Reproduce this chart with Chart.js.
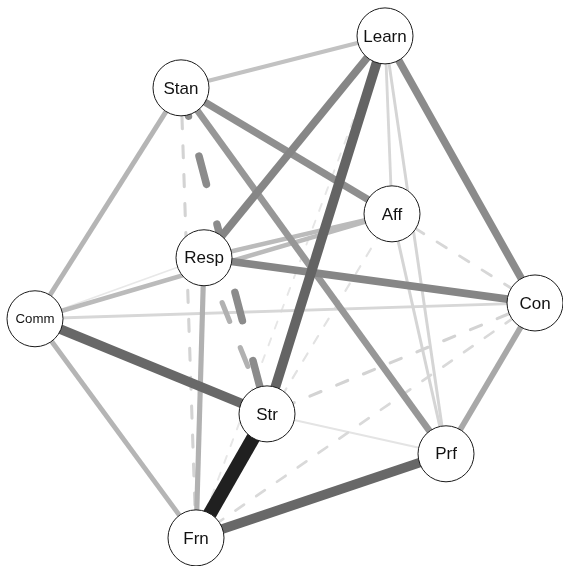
<!DOCTYPE html>
<html>
<head>
<meta charset="utf-8">
<title>Network</title>
<script src="https://cdn.jsdelivr.net/npm/chart.js@4.4.1/dist/chart.umd.min.js"></script>
<style>
  html, body { margin: 0; padding: 0; background: #ffffff; }
  #wrap { width: 563px; height: 566px; }
</style>
</head>
<body>
<div id="wrap"><canvas id="net" width="563" height="566"></canvas></div>
<script>
// Node names and their layout coordinates (layout space roughly -1..1)
const nodeNames = ['Learn', 'Stan', 'Aff', 'Resp', 'Con', 'Comm', 'Str', 'Prf', 'Frn'];
const nodeX = [0.400, -0.416, 0.428, -0.324, 1.000, -1.000, -0.072, 0.644, -0.356];
const nodeY = [1.000, 0.793, 0.291, 0.116, -0.064, -0.127, -0.506, -0.665, -1.000];

// Edge list: endpoints and signed weights (negative weights are drawn dashed)
const edgeFrom = ['Str', 'Learn', 'Comm', 'Frn', 'Learn', 'Learn', 'Resp', 'Stan', 'Stan', 'Stan',
                  'Con', 'Resp', 'Comm', 'Comm', 'Comm', 'Resp', 'Learn', 'Resp', 'Learn', 'Learn',
                  'Aff', 'Comm', 'Stan', 'Aff', 'Con', 'Con', 'Aff', 'Learn', 'Str', 'Comm'];
const edgeTo   = ['Frn', 'Str', 'Str', 'Prf', 'Resp', 'Con', 'Con', 'Aff', 'Str', 'Prf',
                  'Prf', 'Frn', 'Stan', 'Frn', 'Aff', 'Aff', 'Stan', 'Str', 'Aff', 'Prf',
                  'Prf', 'Con', 'Frn', 'Con', 'Str', 'Frn', 'Frn', 'Frn', 'Prf', 'Resp'];
const edgeWeight = [1.00, 0.68, 0.66, 0.66, 0.52, 0.50, 0.52, 0.48, -0.50, 0.44,
                    0.36, 0.32, 0.30, 0.30, 0.27, 0.27, 0.24, -0.32, 0.14, 0.15,
                    0.15, 0.14, -0.16, -0.14, -0.16, -0.13, -0.09, -0.07, 0.08, 0.06];

// Axis extents of the drawing area in layout units
const xRange = [-1.140, 1.112];
const yRange = [-1.112, 1.143];

const nodeIndex = name => nodeNames.indexOf(name);
const edgeWidth = w => 1 + 13 * Math.abs(w);
const edgeColor = w => {
  const g = Math.round(245 - 213 * Math.abs(w));
  return `rgb(${g},${g},${g})`;
};

const edgeSets = edgeFrom.map((from, i) => {
  const w = edgeWeight[i];
  const a = nodeIndex(from);
  const b = nodeIndex(edgeTo[i]);
  const lw = edgeWidth(w);
  return {
    label: from + '-' + edgeTo[i],
    data: [{ x: nodeX[a], y: nodeY[a] }, { x: nodeX[b], y: nodeY[b] }],
    showLine: true,
    borderColor: edgeColor(w),
    borderWidth: lw,
    borderDash: w < 0 ? [3.9 * lw, 5.5 * lw] : [],
    borderCapStyle: w < 0 ? 'round' : 'butt',
    pointRadius: 0,
    pointHoverRadius: 0,
    tension: 0,
    fill: false,
    clip: false,
    // stronger edges are painted over weaker ones
    order: 1 + Math.round((1 - Math.abs(w)) * 1000)
  };
});

const nodeSet = {
  label: 'nodes',
  data: nodeNames.map((n, i) => ({ x: nodeX[i], y: nodeY[i] })),
  pointRadius: 28,
  pointHoverRadius: 28,
  pointBackgroundColor: '#ffffff',
  pointBorderColor: '#1a1a1a',
  pointBorderWidth: 1,
  pointHoverBorderWidth: 1,
  clip: false,
  order: 0
};

// Writes each node's name inside its circle
const nodeLabels = {
  id: 'nodeLabels',
  afterDatasetsDraw(chart) {
    const { ctx, scales: { x, y } } = chart;
    const family = '"Liberation Sans", Arial, Helvetica, sans-serif';
    ctx.save();
    ctx.fillStyle = '#111111';
    ctx.textAlign = 'center';
    ctx.textBaseline = 'middle';
    nodeNames.forEach((name, i) => {
      ctx.font = `17px ${family}`;
      const tw = ctx.measureText(name).width;
      const size = tw > 45 ? 17 * 39 / tw : 17;
      ctx.font = `${size.toFixed(2)}px ${family}`;
      ctx.fillText(name, x.getPixelForValue(nodeX[i]), y.getPixelForValue(nodeY[i]) + 1);
    });
    ctx.restore();
  }
};

new Chart(document.getElementById('net'), {
  type: 'scatter',
  data: { datasets: [nodeSet, ...edgeSets] },
  options: {
    responsive: false,
    animation: false,
    devicePixelRatio: 1,
    events: [],
    layout: { padding: 0, autoPadding: false },
    plugins: { legend: { display: false }, tooltip: { enabled: false } },
    scales: {
      x: { type: 'linear', min: xRange[0], max: xRange[1], display: false },
      y: { type: 'linear', min: yRange[0], max: yRange[1], display: false }
    }
  },
  plugins: [nodeLabels]
});
</script>
</body>
</html>
